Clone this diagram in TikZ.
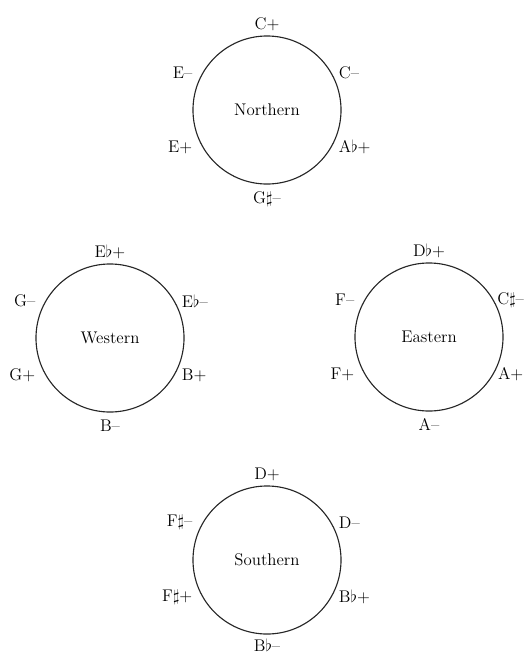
\documentclass[tikz,border=0pt]{standalone}
\usetikzlibrary{positioning}
\begin{document}
\begin{tikzpicture}[x=0.025cm, y=-0.025cm, font=\fontsize{12}{14}\selectfont,
    keyring/.style={circle, draw=black!85, line width=0.8pt, minimum size=3.7cm, inner sep=0pt},
    keyname/.style={inner sep=2pt}]
        \useasboundingbox (0,0) rectangle (527,658);
        % 北圈
        \node[keyring] (northern) at (267,110) {Northern};
        \node[keyname, above=1pt of northern] (northern-t) {C+};
        \node[keyname, right=3pt of northern.30] (northern-tr) {C--};
        \node[keyname, right=3pt of northern.-30] (northern-br) {A$\flat$+};
        \node[keyname, below=3pt of northern] (northern-b) {G$\sharp$--};
        \node[keyname, left=5pt of northern.-150] (northern-bl) {E+};
        \node[keyname, left=5pt of northern.150] (northern-tl) {E--};
        % 西圈
        \node[keyring] (western) at (110,338) {Western};
        \node[keyname, above=1pt of western] (western-t) {E$\flat$+};
        \node[keyname, right=3pt of western.30] (western-tr) {E$\flat$--};
        \node[keyname, right=3pt of western.-30] (western-br) {B+};
        \node[keyname, below=3pt of western] (western-b) {B--};
        \node[keyname, left=5pt of western.-150] (western-bl) {G+};
        \node[keyname, left=5pt of western.150] (western-tl) {G--};
        % 东圈
        \node[keyring] (eastern) at (429,337) {Eastern};
        \node[keyname, above=1pt of eastern] (eastern-t) {D$\flat$+};
        \node[keyname, right=0.5pt of eastern.30] (eastern-tr) {C$\sharp$--};
        \node[keyname, right=1pt of eastern.-30] (eastern-br) {A+};
        \node[keyname, below=3pt of eastern] (eastern-b) {A--};
        \node[keyname, left=5pt of eastern.-150] (eastern-bl) {F+};
        \node[keyname, left=5pt of eastern.150] (eastern-tl) {F--};
        % 南圈
        \node[keyring] (southern) at (267,560) {Southern};
        \node[keyname, above=1pt of southern] (southern-t) {D+};
        \node[keyname, right=3pt of southern.30] (southern-tr) {D--};
        \node[keyname, right=3pt of southern.-30] (southern-br) {B$\flat$+};
        \node[keyname, below=1pt of southern] (southern-b) {B$\flat$--};
        \node[keyname, left=5pt of southern.-150] (southern-bl) {F$\sharp$+};
        \node[keyname, left=5pt of southern.150] (southern-tl) {F$\sharp$--};
    \end{tikzpicture}
\end{document}
